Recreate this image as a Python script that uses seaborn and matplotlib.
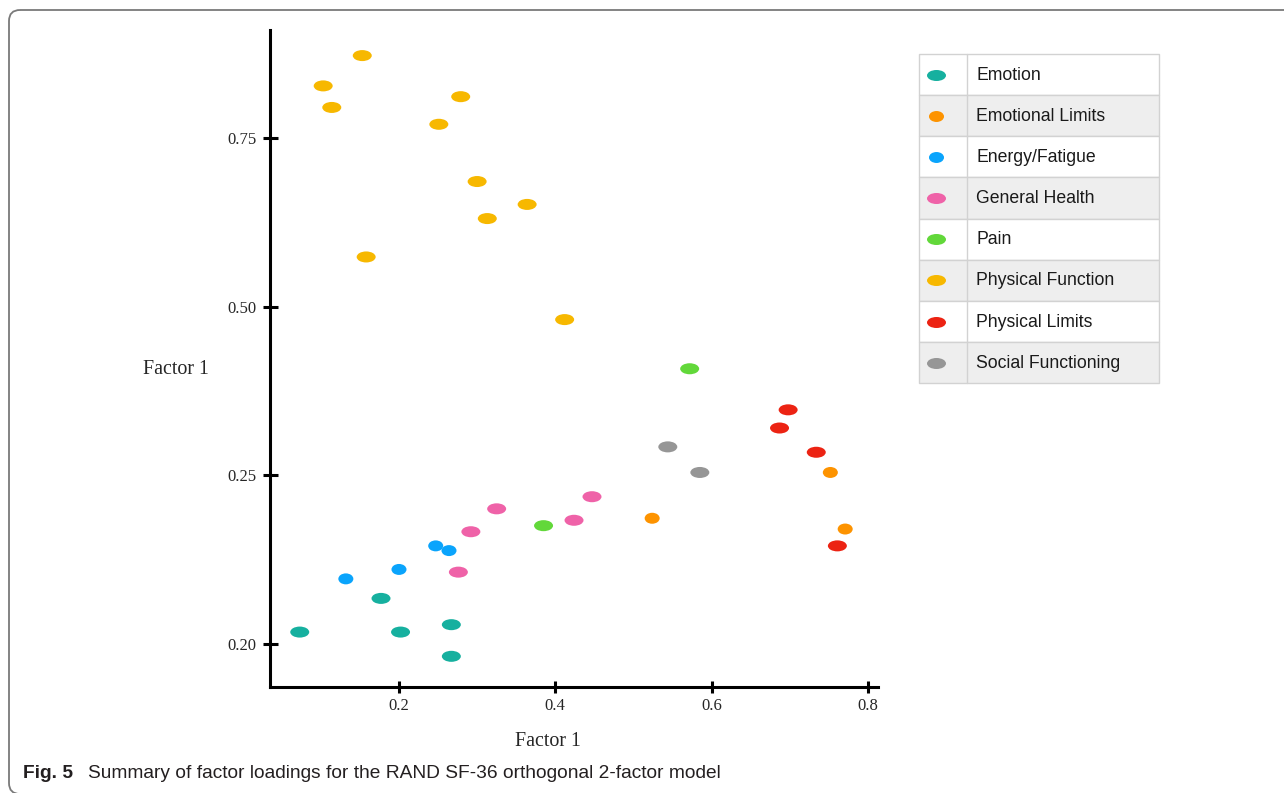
import matplotlib
matplotlib.use('Agg')
import matplotlib.pyplot as plt
import matplotlib.patches as mpatches
from matplotlib.path import Path
from matplotlib.transforms import Affine2D
import pandas as pd
import seaborn as sns

# categories in legend order
categories = ['Emotion', 'Emotional Limits', 'Energy/Fatigue', 'General Health',
              'Pain', 'Physical Function', 'Physical Limits', 'Social Functioning']
colors = ['#16b09f', '#fd9300', '#0aa4fc', '#ef62a8',
          '#62d83a', '#f7b800', '#ec2313', '#969696']

# loadings (y is on the figure's own, oddly labelled scale)
emotion_x = [0.073, 0.177, 0.202, 0.267, 0.267]
emotion_y = [0.017, 0.067, 0.017, 0.028, -0.019]
emo_limits_x = [0.524, 0.752, 0.771]
emo_limits_y = [0.186, 0.254, 0.170]
energy_x = [0.132, 0.200, 0.247, 0.264]
energy_y = [0.096, 0.110, 0.145, 0.138]
health_x = [0.276, 0.292, 0.325, 0.424, 0.447]
health_y = [0.106, 0.166, 0.200, 0.183, 0.218]
pain_x = [0.385, 0.572]
pain_y = [0.175, 0.408]
phys_func_x = [0.103, 0.114, 0.153, 0.158, 0.251, 0.279, 0.300, 0.313, 0.364, 0.412]
phys_func_y = [0.828, 0.796, 0.873, 0.574, 0.771, 0.812, 0.686, 0.631, 0.652, 0.481]
phys_limits_x = [0.687, 0.698, 0.734, 0.761]
phys_limits_y = [0.320, 0.347, 0.284, 0.145]
social_x = [0.544, 0.585]
social_y = [0.292, 0.254]

x_ticks = [0.2, 0.4, 0.6, 0.8]
x_tick_labels = ['0.2', '0.4', '0.6', '0.8']
y_ticks = [0.0, 0.25, 0.50, 0.75]
y_tick_labels = ['0.20', '0.25', '0.50', '0.75']

series = [emotion_x, emotion_y, emo_limits_x, emo_limits_y, energy_x, energy_y,
          health_x, health_y, pain_x, pain_y, phys_func_x, phys_func_y,
          phys_limits_x, phys_limits_y, social_x, social_y]
rows = []
for i, cat in enumerate(categories):
    for x, y in zip(series[2 * i], series[2 * i + 1]):
        rows.append({'factor_x': x, 'factor_y': y, 'category': cat})
df = pd.DataFrame(rows)

sns.set_style('white')
plt.rcParams['font.family'] = ['Liberation Serif', 'DejaVu Serif']

wide = Path.unit_circle().transformed(Affine2D().scale(1.0, 0.58))
round_ish = Path.unit_circle().transformed(Affine2D().scale(1.0, 0.73))
small_cats = ['Emotional Limits', 'Energy/Fatigue']
markers = {c: (round_ish if c in small_cats else wide) for c in categories}
sizes = {c: (117 if c in small_cats else 187) for c in categories}
palette = dict(zip(categories, colors))

fig = plt.figure(figsize=(12.84, 7.93), dpi=100)

# rounded panel frame, open to the right and bottom (drawn in pixel units)
bg = fig.add_axes([0, 0, 1, 1], zorder=-1)
bg.set_xlim(0, 1284)
bg.set_ylim(793, 0)
bg.axis('off')
bg.add_patch(mpatches.FancyBboxPatch((9, 10), 1500, 784, boxstyle='round,pad=0,rounding_size=11',
                                     facecolor='none', edgecolor='#7a7a7a', linewidth=1.3,
                                     clip_on=True))

ax = fig.add_axes([269.5 / 1284, 105.7 / 793, 608.5 / 1284, 657.3 / 793])
ax.patch.set_alpha(0)

sns.scatterplot(data=df, x='factor_x', y='factor_y', hue='category', style='category',
                size='category', palette=palette, markers=markers, sizes=sizes,
                hue_order=categories, style_order=categories, size_order=categories,
                linewidth=0, legend=False, ax=ax)

ax.set_xlim(0.0343, 0.813)
ax.set_ylim(-0.065, 0.911)
ax.set_xticks(x_ticks)
ax.set_xticklabels(x_tick_labels)
ax.set_yticks(y_ticks)
ax.set_yticklabels(y_tick_labels)
for s in ['top', 'right']:
    ax.spines[s].set_visible(False)
for s in ['left', 'bottom']:
    ax.spines[s].set_linewidth(2.2)
    ax.spines[s].set_color('black')
ax.tick_params(axis='y', left=True, direction='inout', length=10.8, width=2.2, pad=4,
               labelsize=12, color='black')
ax.tick_params(axis='x', bottom=True, direction='inout', length=8.5, width=2.2, pad=3.5,
               labelsize=12, color='black')

ax.set_xlabel('Factor 1', fontsize=14.4)
ax.xaxis.set_label_coords(0.458, -0.068)
ax.set_ylabel('Factor 1', fontsize=14.4, rotation=0, ha='center', va='center')
ax.yaxis.set_label_coords(-0.154, 0.483)

# table-style legend
lg = fig.add_axes([919.3 / 1284, (793 - 383.3) / 793, 240 / 1284, 329.3 / 793])
lg.set_xlim(0, 240)
lg.set_ylim(329.3, 0)
lg.axis('off')
row_h = 329.3 / len(categories)
for i, cat in enumerate(categories):
    fill = '#eeeeee' if i % 2 == 1 else 'white'
    lg.add_patch(mpatches.Rectangle((0, i * row_h), 240, row_h, facecolor=fill,
                                    edgecolor='#d2d2d2', linewidth=1.0, clip_on=False))
    lg.scatter([16.5], [i * row_h + row_h / 2], marker=markers[cat], s=sizes[cat],
               color=palette[cat], linewidths=0, zorder=3)
    lg.text(57, i * row_h + row_h / 2 + 0.5, cat, fontsize=12.7, va='center', ha='left',
            family=['Liberation Sans', 'DejaVu Sans'], color='#1a1a1a')
lg.plot([47.7, 47.7], [0, 329.3], color='#d2d2d2', linewidth=1.0, clip_on=False)

fig.text(23 / 1284, (793 - 774) / 793, 'Fig. 5', fontsize=13.8, fontweight='bold',
         family=['Liberation Sans', 'DejaVu Sans'], color='#231f20', va='center')
fig.text(88 / 1284, (793 - 774) / 793,
         'Summary of factor loadings for the RAND SF-36 orthogonal 2-factor model',
         fontsize=13.8, family=['Liberation Sans', 'DejaVu Sans'], color='#231f20', va='center')

fig.savefig('out.png', dpi=100)
